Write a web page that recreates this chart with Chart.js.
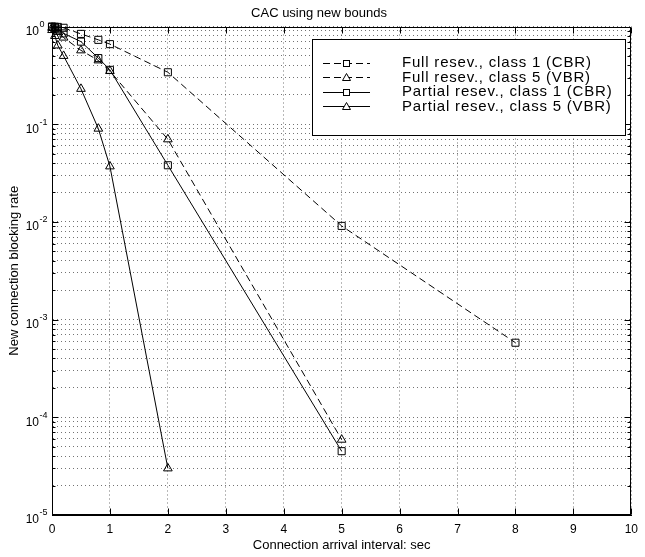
<!DOCTYPE html>
<html lang="en">
<head>
<meta charset="utf-8">
<title>CAC using new bounds</title>
<script src="https://cdn.jsdelivr.net/npm/chart.js"></script>
<style>
  body { margin: 0; background: #fff; }
</style>
</head>
<body>
<canvas id="cacChart" width="645" height="557"></canvas>
<script>
// connection arrival interval (sec) for each curve
const xFull1 = [0, 0.05, 0.1, 0.2, 0.5, 0.8, 1, 2, 5, 8];
const xFull5 = [0, 0.05, 0.1, 0.2, 0.5, 0.8, 1, 2, 5];
const xPart1 = [0, 0.05, 0.1, 0.2, 0.5, 0.8, 1, 2, 5];
const xPart5 = [0, 0.05, 0.1, 0.2, 0.5, 0.8, 1, 2];

// new connection blocking rate
const full1 = [1.0, 0.995, 0.99, 0.97, 0.84, 0.73, 0.66, 0.34, 9.1e-3, 5.8e-4];
const full5 = [0.97, 0.93, 0.88, 0.77, 0.57, 0.45, 0.35, 0.07, 5.9e-5];
const part1 = [0.99, 0.96, 0.93, 0.85, 0.70, 0.475, 0.36, 0.038, 4.5e-5];
const part5 = [0.92, 0.80, 0.64, 0.50, 0.23, 0.09, 0.037, 3.0e-5];

const labels = [
  'Full resev., class 1 (CBR)',
  'Full resev., class 5 (VBR)',
  'Partial resev., class 1 (CBR)',
  'Partial resev., class 5 (VBR)'
];

// axis ticks
const xTicks = [0, 1, 2, 3, 4, 5, 6, 7, 8, 9, 10];
const decades = [-5, -4, -3, -2, -1, 0];
const yGrid = [];
decades.forEach(function (e) {
  if (e === 0) { yGrid.push(1); return; }
  for (let m = 1; m <= 9; m++) yGrid.push(m * Math.pow(10, e));
});

const FONT = '"Liberation Sans", Arial, Helvetica, sans-serif';
Chart.defaults.font.family = FONT;
Chart.defaults.color = '#000';

function pts(xs, ys) {
  return xs.map(function (v, i) { return {x: v, y: ys[i]}; });
}

const DASH = [7, 4];

// black frame, inward ticks, y labels with exponents and the boxed legend
const matlabFrame = {
  id: 'matlabFrame',
  afterDraw(chart) {
    const ctx = chart.ctx;
    const a = chart.chartArea;
    const x = chart.scales.x, y = chart.scales.y;
    const L = Math.round(a.left) + 0.5, R = Math.round(a.right) - 0.5;
    const T = Math.round(a.top) + 0.5, B = Math.round(a.bottom) - 0.5;
    ctx.save();
    ctx.strokeStyle = '#000';
    ctx.lineWidth = 1;
    ctx.setLineDash([]);
    ctx.strokeRect(L, T, R - L, B - T);

    ctx.beginPath();
    xTicks.forEach(function (v) {
      const px = Math.round(x.getPixelForValue(v)) + 0.5;
      ctx.moveTo(px, B); ctx.lineTo(px, B - 6);
      ctx.moveTo(px, T); ctx.lineTo(px, T + 6);
    });
    yGrid.forEach(function (v) {
      const py = Math.round(y.getPixelForValue(v)) + 0.5;
      const e = Math.log10(v);
      const len = Math.abs(e - Math.round(e)) < 1e-9 ? 6 : 3;
      ctx.moveTo(L, py); ctx.lineTo(L + len, py);
      ctx.moveTo(R, py); ctx.lineTo(R - len, py);
    });
    ctx.stroke();

    ctx.fillStyle = '#000';
    ctx.textBaseline = 'middle';
    decades.forEach(function (e) {
      const py = y.getPixelForValue(Math.pow(10, e));
      ctx.font = '12px ' + FONT;
      ctx.textAlign = 'right';
      ctx.fillText('10', 39, py + 5);
      ctx.font = '9px ' + FONT;
      ctx.textAlign = 'left';
      ctx.fillText(String(e), 39.5, py - 2);
    });

    // legend
    const box = {l: 312, t: 39, r: 625, b: 135};
    ctx.fillStyle = '#fff';
    ctx.fillRect(box.l, box.t, box.r - box.l, box.b - box.t);
    ctx.strokeRect(box.l + 0.5, box.t + 0.5, box.r - box.l, box.b - box.t);
    const rows = [62.5, 77, 91.5, 106];
    chart.data.datasets.forEach(function (ds, i) {
      const ry = Math.round(rows[i]) + 0.5;
      ctx.beginPath();
      ctx.setLineDash(ds.borderDash || []);
      ctx.moveTo(323, ry); ctx.lineTo(370, ry);
      ctx.stroke();
      ctx.setLineDash([]);
      ctx.beginPath();
      if (ds.pointStyle === 'rect') {
        ctx.fillRect(343, ry - 3, 7, 6);
        ctx.strokeRect(343.5, ry - 3, 6, 6);
      } else {
        ctx.moveTo(346.5, ry - 4);
        ctx.lineTo(350.5, ry + 3);
        ctx.lineTo(342.5, ry + 3);
        ctx.closePath();
        ctx.fill();
        ctx.stroke();
      }
      ctx.fillStyle = '#000';
      ctx.font = '15px ' + FONT;
      ctx.letterSpacing = '0.8px';
      ctx.textAlign = 'left';
      ctx.fillText(ds.label, 402, rows[i] + 0.5);
      ctx.letterSpacing = '0px';
      ctx.fillStyle = '#fff';
    });
    ctx.restore();
  }
};

function series(label, xs, ys, style, dashed) {
  return {
    label: label,
    data: pts(xs, ys),
    borderColor: '#000',
    borderWidth: 1,
    borderDash: dashed ? DASH : [],
    pointStyle: style,
    pointRadius: 5,
    pointBorderColor: '#000',
    pointBackgroundColor: 'rgba(0,0,0,0)',
    pointBorderWidth: 1,
    tension: 0,
    clip: false
  };
}

new Chart(document.getElementById('cacChart').getContext('2d'), {
  type: 'line',
  data: {
    datasets: [
      series(labels[0], xFull1, full1, 'rect', true),
      series(labels[1], xFull5, full5, 'triangle', true),
      series(labels[2], xPart1, part1, 'rect', false),
      series(labels[3], xPart5, part5, 'triangle', false)
    ]
  },
  options: {
    responsive: false,
    animation: false,
    devicePixelRatio: 1,
    layout: {padding: {left: 0, right: 7, top: 0, bottom: 0}},
    plugins: {
      legend: {display: false},
      tooltip: {enabled: false},
      title: {
        display: true,
        text: 'CAC using new bounds',
        color: '#000',
        font: {size: 13, weight: 'normal'},
        padding: {top: 5.5, bottom: 5.4}
      }
    },
    scales: {
      x: {
        type: 'linear',
        min: 0,
        max: 10,
        afterBuildTicks: function (s) { s.ticks = xTicks.map(function (v) { return {value: v}; }); },
        ticks: {font: {size: 12}, padding: 7, maxRotation: 0, autoSkip: false},
        grid: {color: 'rgba(0,0,0,0.55)', lineWidth: 1, drawTicks: false},
        border: {display: true, color: '#000', dash: [1, 3]},
        title: {display: true, text: 'Connection arrival interval: sec', font: {size: 13}, padding: {top: 4, bottom: 4}},
        afterFit: function (s) { s.height = 42; }
      },
      y: {
        type: 'logarithmic',
        min: 1e-5,
        max: 1,
        afterBuildTicks: function (s) { s.ticks = yGrid.map(function (v) { return {value: v}; }); },
        ticks: {callback: function () { return ''; }, autoSkip: false},
        grid: {color: 'rgba(0,0,0,0.55)', lineWidth: 1, drawTicks: false},
        border: {display: true, color: '#000', dash: [1, 3]},
        title: {display: true, text: 'New connection blocking rate', font: {size: 13}, padding: {top: 6.7, bottom: 0}},
        afterFit: function (s) { s.width = 52; }
      }
    }
  },
  plugins: [matlabFrame]
});
</script>
</body>
</html>
